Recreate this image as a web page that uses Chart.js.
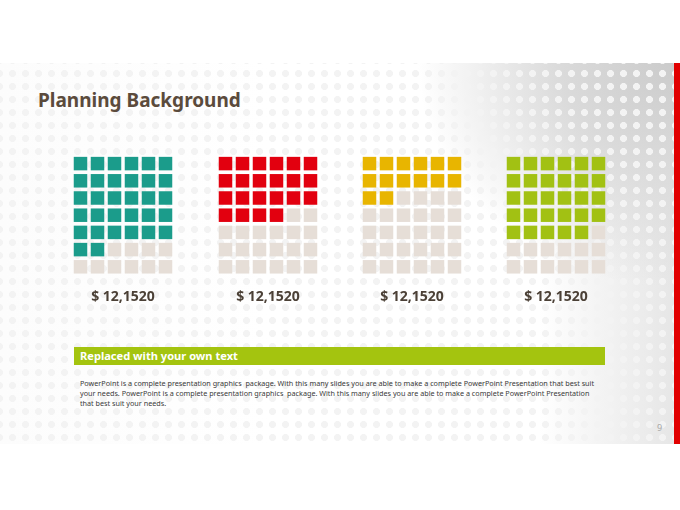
<!DOCTYPE html>
<html>
<head>
<meta charset="utf-8">
<script src="https://cdn.jsdelivr.net/npm/chart.js@4.4.1/dist/chart.umd.min.js"></script>
<style>
  html, body { margin: 0; padding: 0; background: #fff; }
  body { width: 680px; height: 510px; position: relative; overflow: hidden; font-family: "Noto Sans", sans-serif; }
  .slide {
    position: absolute; left: 0; top: 63px; width: 674px; height: 381px;
    background:
      radial-gradient(circle, #f3f3f3 0 3.2px, rgba(243,243,243,0) 3.8px) 6px 4px / 13px 13px,
      radial-gradient(ellipse 320px 280px at 100% 0%, #cbcbcb 0%, #dadada 35%, rgba(255,255,255,0) 80%),
      linear-gradient(90deg, rgba(255,255,255,0) 80%, #e6e6e6 100%),
      linear-gradient(90deg, #fcfcfc 0%, #ffffff 40%, #ffffff 100%);
  }
  .redbar { position: absolute; left: 674px; top: 63px; width: 6px; height: 381px; background: #e10000; }
  .title { position: absolute; left: 38px; top: 87px; font-size: 19px; font-weight: bold; color: #5b4b3c; white-space: nowrap; }
  .waffle { position: absolute; }
  .band { position: absolute; left: 74px; top: 347px; width: 531px; height: 18px; background: #a4c40f; }
  .band span { position: absolute; left: 6px; top: 1px; font-size: 11.1px; font-weight: bold; color: #fff; white-space: nowrap; }
  .para { position: absolute; left: 80px; top: 378px; font-size: 7.23px; line-height: 10.1px; color: #3a3a3a; white-space: nowrap; }
  .pagenum { position: absolute; left: 657px; top: 421px; font-size: 9px; color: #a8a8a8; }
</style>
</head>
<body>
<div class="slide"></div>
<div class="redbar"></div>
<div class="title">Planning Background</div>

<div class="waffle" id="w0"><canvas id="c0"></canvas></div>
<div class="waffle" id="w1"><canvas id="c1"></canvas></div>
<div class="waffle" id="w2"><canvas id="c2"></canvas></div>
<div class="waffle" id="w3"><canvas id="c3"></canvas></div>

<div class="band"><span>Replaced with your own text</span></div>
<div class="para">
PowerPoint is a complete presentation graphics &nbsp;package. With this many slides you are able to make a complete PowerPoint Presentation that best suit<br>
your needs. PowerPoint is a complete presentation graphics &nbsp;package. With this many slides you are able to make a complete PowerPoint Presentation<br>
that best suit your needs.
</div>
<div class="pagenum">9</div>

<script>
// waffle data: 6 x 7 cells each, filled cells counted row by row from the top
var valueLabels = ['$ 12,1520', '$ 12,1520', '$ 12,1520', '$ 12,1520']
var filledCells = [32, 22, 14, 29]
var gridColumns = 6
var gridRows = 7

var fillColors = ['#1b9c8b', '#e2000f', '#e8b500', '#a2c113']
var emptyColor = '#e6ded7'

// layout of the four waffles (pixels)
var firstLeft = 72.25
var waffleStep = 144.4
var waffleTop = 155.15
var areaW = 102
var areaH = 120.4
var titlePad = 13
var titleSize = 14

function cellsFor(count) {
    var on = []
    var off = []
    for (var i = 0; i < gridColumns * gridRows; i++) {
        var cell = { x: i % gridColumns, y: Math.floor(i / gridColumns) }
        if (i < count) on.push(cell)
        else off.push(cell)
    }
    return { on: on, off: off }
}

valueLabels.map(function (label, i) {
    var box = document.getElementById('w' + i)
    box.style.left = (firstLeft + i * waffleStep) + 'px'
    box.style.top = waffleTop + 'px'
    box.style.width = areaW + 'px'
    box.style.height = (areaH + titlePad + titleSize * 1.2) + 'px'

    var cells = cellsFor(filledCells[i])
    var pointOpts = { pointStyle: 'rect', pointRadius: 9.55, pointHoverRadius: 9.55, borderWidth: 0 }

    new Chart(document.getElementById('c' + i), {
        type: 'scatter',
        data: {
            datasets: [
                Object.assign({ data: cells.on, backgroundColor: fillColors[i] }, pointOpts),
                Object.assign({ data: cells.off, backgroundColor: emptyColor }, pointOpts)
            ]
        },
        options: {
            responsive: true,
            maintainAspectRatio: false,
            animation: false,
            events: [],
            clip: false,
            layout: { padding: 0, autoPadding: false },
            scales: {
                x: { type: 'linear', min: -0.5, max: gridColumns - 0.5, display: false },
                y: { type: 'linear', min: -0.5, max: gridRows - 0.5, reverse: true, display: false }
            },
            plugins: {
                legend: { display: false },
                tooltip: { enabled: false },
                title: {
                    display: true,
                    position: 'bottom',
                    text: label,
                    color: '#4b4036',
                    font: { family: 'Noto Sans', size: titleSize, weight: 'bold' },
                    padding: { top: titlePad, bottom: 0 }
                }
            }
        }
    })
})
</script>
</body>
</html>
